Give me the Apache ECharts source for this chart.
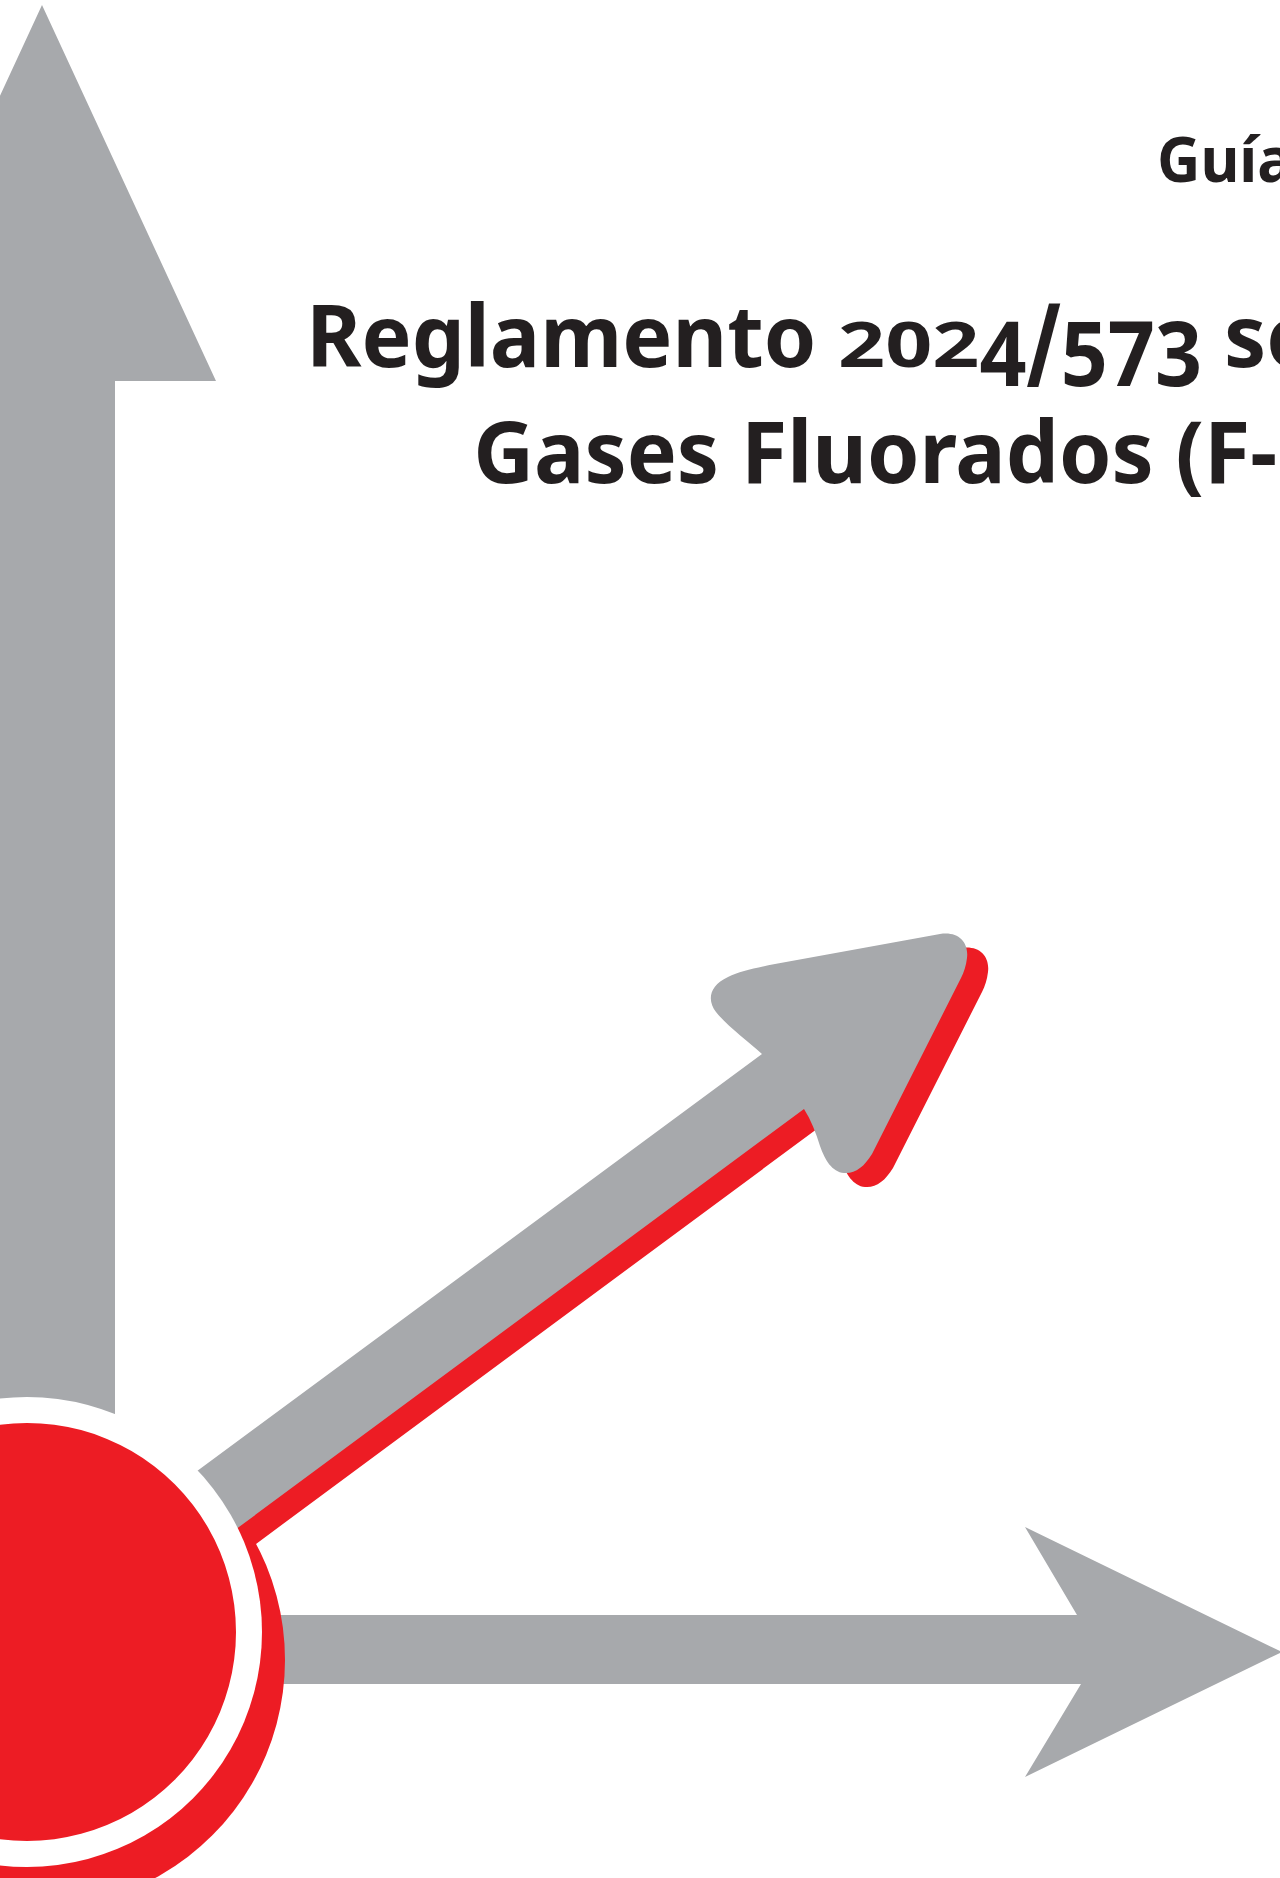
<!DOCTYPE html>
<html>
<head>
<meta charset="utf-8">
<script src="https://cdn.jsdelivr.net/npm/echarts@6/dist/echarts.min.js"></script>
<style>
html,body{margin:0;padding:0;background:#ffffff;overflow:hidden}
#c{width:1280px;height:1878px}
#c text{ dominant-baseline: alphabetic !important; }
</style>
</head>
<body>
<div id="c"></div>
<script>
// ---- content (text of the cover) ----
const guideLabel = ['Guía'];
const titleLines = ['Reglamento 2024/573 sobre', 'Gases Fluorados (F-gas)'];

// ---- styles ----
const GREY = '#a7a9ac';
const RED = '#ed1c24';
const INK = '#231f20';
const FAMILY = "'Noto Sans'";
const WEIGHT = 'bold';
const TITLE_SIZE = 87;
const GUIDE_SIZE = 62;
const TITLE_FONT = WEIGHT + ' ' + TITLE_SIZE + 'px ' + FAMILY;
const GUIDE_FONT = WEIGHT + ' ' + GUIDE_SIZE + 'px ' + FAMILY;

// horizontal condensing so the humanist sans matches the original's narrower face
const mc = document.createElement('canvas').getContext('2d');
mc.font = TITLE_FONT;
const sx = 804 / mc.measureText(titleLines[1].slice(0, 19)).width;

function textEl(str, x, y, scaleX, scaleY, font) {
  return {type: 'text', x: x, y: y, scaleX: scaleX, scaleY: scaleY,
          style: {text: str, x: 0, y: 0, fill: INK, align: 'left', verticalAlign: 'middle', font: font}};
}

// first title line: the original face uses old-style figures, imitated per glyph
function titleLineOne() {
  const baseY = 367;
  const m = titleLines[0].match(/^(\D*?)([\d\/]+)(.*)$/);
  const head = m[1], nums = m[2], tail = m[3];
  mc.font = TITLE_FONT;
  const kd = 364 / (mc.measureText(nums).width * sx);
  let x = 313 - 7 * sx;
  const out = [textEl(head, x, baseY, sx, 1, TITLE_FONT)];
  x += mc.measureText(head).width * sx;
  for (const ch of nums) {
    let sy = 0.73, dy = 0;
    if (ch === '/') { sy = 1.32; dy = 19; }
    else if ('34579'.indexOf(ch) >= 0) { sy = 1.03; dy = 19; }
    out.push(textEl(ch, x, baseY + dy, sx * kd, sy, TITLE_FONT));
    x += mc.measureText(ch).width * sx * kd;
  }
  out.push(textEl(tail, x, baseY, sx, 1, TITLE_FONT));
  return out;
}

// diagonal arrow outline (head with rounded corners + shaft)
const diagPath =
  'M762 1054 C748 1041 727 1026 716 1012 C707 1000 709 986 728 977 ' +
  'C740 971 755 968 775 964 L940 934 C958 931 969 942 967 958 ' +
  'C966 966 964 972 961 978 L872 1154 C864 1167 855 1174 844 1173 ' +
  'C832 1172 825 1160 820 1146 C816 1133 811 1120 804 1109 ' +
  'L120 1615 L78 1559 Z';

function renderCover() {
  const children = [
    // vertical arrow
    {type: 'polygon',
     shape: {points: [[42,5],[216,381],[115,381],[115,1500],[-31,1500],[-31,381],[-132,381]]},
     style: {fill: GREY}},
    // horizontal arrow
    {type: 'polygon',
     shape: {points: [[200,1615],[1077,1615],[1025,1527],[1282,1652],[1025,1777],[1081,1684],[200,1684]]},
     style: {fill: GREY}},
    // outer red disc (offset)
    {type: 'circle', shape: {cx: 37, cy: 1660, r: 248}, style: {fill: RED}},
    // red shadow of diagonal arrow
    {type: 'path', x: 21, y: 14, shape: {pathData: diagPath}, style: {fill: RED}},
    // diagonal arrow
    {type: 'path', shape: {pathData: diagPath}, style: {fill: GREY}},
    // white ring
    {type: 'circle', shape: {cx: 27, cy: 1632, r: 235}, style: {fill: '#ffffff'}},
    // inner red disc
    {type: 'circle', shape: {cx: 27, cy: 1632, r: 209}, style: {fill: RED}},
    // texts
    textEl(guideLabel[0], 1157, 182, sx, 1, GUIDE_FONT),
    textEl(titleLines[1], 477 - 4 * sx, 483, sx, 1, TITLE_FONT)
  ].concat(titleLineOne());
  return {type: 'group', children: children};
}

const chart = echarts.init(document.getElementById('c'), null, {renderer: 'svg', width: 1280, height: 1878});
chart.setOption({
  animation: false,
  series: [{
    type: 'custom',
    coordinateSystem: 'none',
    silent: true,
    data: [0],
    renderItem: renderCover
  }]
});
</script>
</body>
</html>
